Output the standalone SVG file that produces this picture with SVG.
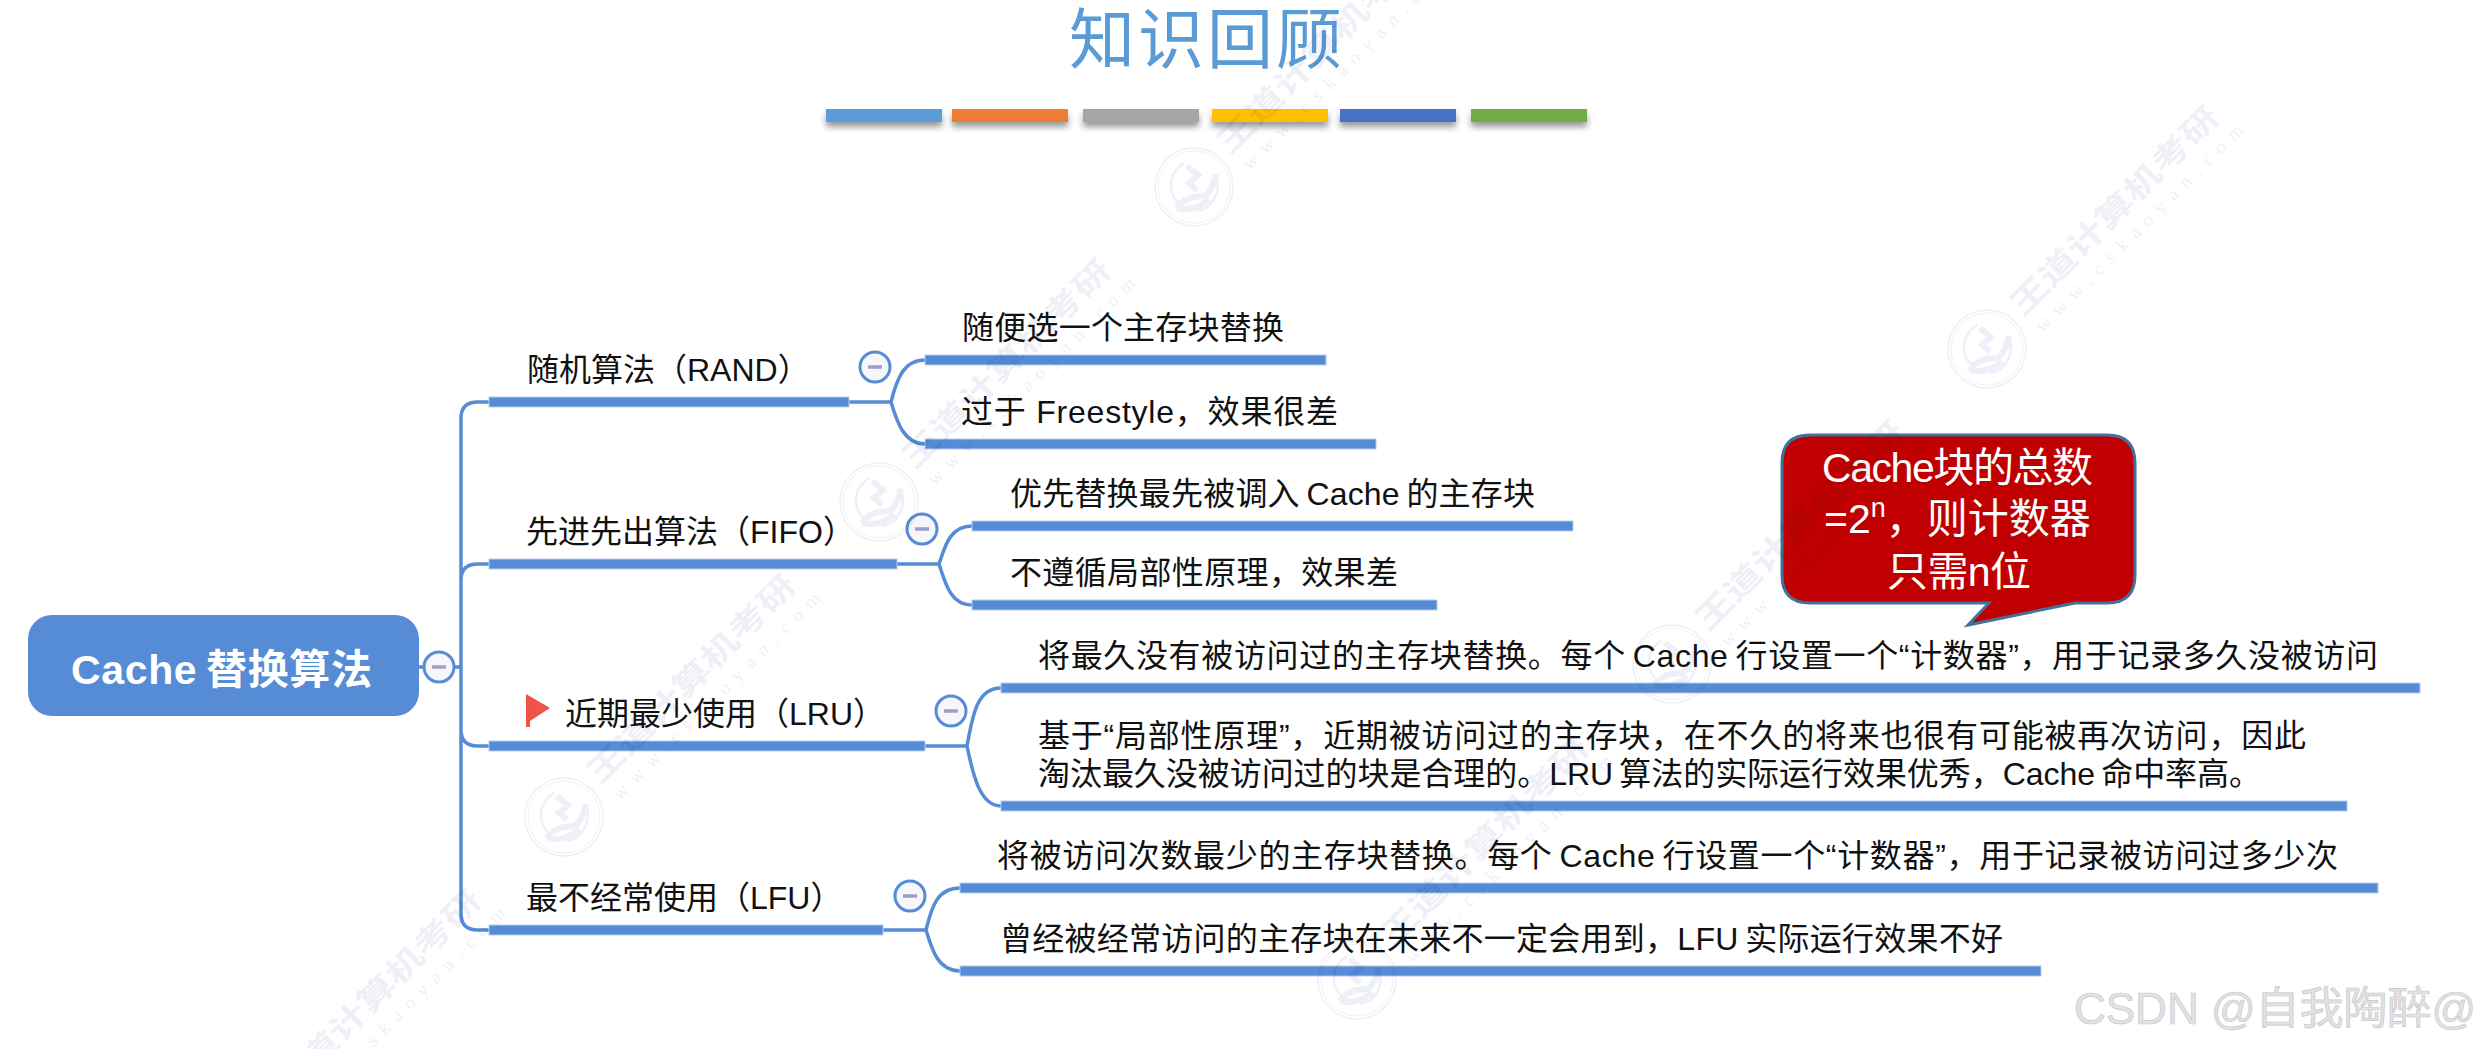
<svg xmlns="http://www.w3.org/2000/svg" width="2489" height="1049" viewBox="0 0 2489 1049">
<style>
text{font-family:"Liberation Sans","Noto Sans CJK SC",sans-serif}
.t{font-size:32px;fill:#111}
.bar{fill:#558CD5;stroke:#B5CDEE;stroke-width:1}
.c{fill:none;stroke:#558CD5;stroke-width:3.5}
.fold{fill:#F6F6FB;stroke:#558CD5;stroke-width:3}
.minus{stroke:#9A9FCB;stroke-width:3.5}
.call{font-size:41px;fill:#fff}
.wmt{font-size:40px;font-weight:bold;fill:#EEEFF7}
.wmu{font-family:"Liberation Serif","Noto Sans CJK SC",serif;font-size:19px;fill:#EEEFF7}
.wmc{fill:none;stroke:#EEEFF7}
#watermarks{mix-blend-mode:multiply}
</style>
<defs>
<filter id="sh" x="-10%" y="-40%" width="120%" height="220%"><feDropShadow dx="0" dy="5" stdDeviation="3" flood-color="#000" flood-opacity=".4"/></filter>
<g id="wm">
<circle class="wmc" r="39" stroke-width="1.5"/>
<circle class="wmc" r="36" stroke-width="1"/>
<path class="wmc" stroke-width="2.5" d="M-10-24C-28-12-26 10-13 17M22-13C28 6 18 22 3 24"/>
<path class="wmc" stroke-width="6" d="M-17 21C-8 8 4 10 10 9C16 6 20-4 22-13M-17 21C-6 24 8 20 15 12M-7-21L4-12L-5-4L3 3"/>
<text class="wmt" transform="translate(36 -32) rotate(-45) scale(1 .75)">王道计算机考研</text>
<text class="wmu" transform="translate(56 -16) rotate(-45)" textLength="285">www.cskaoyan.com</text>
</g>
</defs>
<rect width="2489" height="1049" fill="#fff"/>
<g id="title">
<text x="1069" y="63" font-size="66" fill="#5B9BD5" textLength="273" style="font-family:'Noto Sans CJK SC',sans-serif">知识回顾</text>
<g filter="url(#sh)">
<rect x="826" y="109" width="116" height="13" fill="#5B9BD5"/>
<rect x="952" y="109" width="116" height="13" fill="#ED7D31"/>
<rect x="1083" y="109" width="116" height="13" fill="#A5A5A5"/>
<rect x="1212" y="109" width="116" height="13" fill="#FFC000"/>
<rect x="1340" y="109" width="116" height="13" fill="#4472C4"/>
<rect x="1471" y="109" width="116" height="13" fill="#70AD47"/>
</g>
</g>
<g id="connectors">
<path class="c" d="M419 667H461M461 667V418Q461 402 478 402H489M461 667V580Q461 564 478 564H489M461 667V730Q461 746 478 746H489M461 667V914Q461 930 478 930H489"/>
<path class="c" d="M849 402H891M891 402C897 378 904 360 925 360M891 402C897 422 904 444 925 444"/>
<path class="c" d="M897 564H939M939 564C945 546 950 526 972 526M939 564C945 582 950 605 972 605"/>
<path class="c" d="M925 746H967M967 746C973 712 978 688 1001 688M967 746C973 775 980 806 1001 806"/>
<path class="c" d="M883 930H926M926 930C932 905 938 888 960 888M926 930C932 950 938 971 960 971"/>
</g>
<g id="root">
<rect x="28" y="615" width="391" height="101" rx="24" fill="#558CD5"/>
<text x="71" y="684" font-size="41" font-weight="bold" fill="#fff" textLength="301">Cache&#8201;替换算法</text>
<circle class="fold" cx="439" cy="667" r="15"/><path class="minus" d="M432 667H446"/>
</g>
<g id="rand">
<rect class="bar" x="489" y="397" width="360" height="10"/>
<text class="t" x="527" y="381">随机算法（RAND）</text>
<circle class="fold" cx="875" cy="367" r="15"/><path class="minus" d="M868 367H882"/>
</g>
<g id="rand-1">
<rect class="bar" x="925" y="355" width="401" height="10"/>
<text class="t" x="962" y="339" textLength="322">随便选一个主存块替换</text>
</g>
<g id="rand-2">
<rect class="bar" x="925" y="439" width="451" height="10"/>
<text class="t" x="961" y="423" textLength="377">过于 Freestyle，效果很差</text>
</g>
<g id="fifo">
<rect class="bar" x="489" y="559" width="408" height="10"/>
<text class="t" x="526" y="543">先进先出算法（FIFO）</text>
<circle class="fold" cx="922" cy="529" r="15"/><path class="minus" d="M915 529H929"/>
</g>
<g id="fifo-1">
<rect class="bar" x="972" y="521" width="601" height="10"/>
<text class="t" x="1010" y="505" textLength="525">优先替换最先被调入&#8201;Cache&#8201;的主存块</text>
</g>
<g id="fifo-2">
<rect class="bar" x="972" y="600" width="465" height="10"/>
<text class="t" x="1010" y="584" textLength="388">不遵循局部性原理，效果差</text>
</g>
<g id="lru">
<rect class="bar" x="489" y="741" width="436" height="10"/>
<path d="M526 694L550 708L530 721V727H526Z" fill="#F0524C"/>
<text class="t" x="565" y="725">近期最少使用（LRU）</text>
<circle class="fold" cx="951" cy="711" r="15"/><path class="minus" d="M944 711H958"/>
</g>
<g id="lru-1">
<rect class="bar" x="1001" y="683" width="1419" height="10"/>
<text class="t" x="1038" y="667" textLength="1340">将最久没有被访问过的主存块替换。每个&#8201;Cache&#8201;行设置一个“计数器”，用于记录多久没被访问</text>
</g>
<g id="lru-2">
<rect class="bar" x="1001" y="801" width="1346" height="10"/>
<text class="t" x="1038" y="747" textLength="1268">基于“局部性原理”，近期被访问过的主存块，在不久的将来也很有可能被再次访问，因此</text>
<text class="t" x="1038" y="785" textLength="1223">淘汰最久没被访问过的块是合理的。LRU&#8201;算法的实际运行效果优秀，Cache&#8201;命中率高。</text>
</g>
<g id="lfu">
<rect class="bar" x="489" y="925" width="394" height="10"/>
<text class="t" x="526" y="909">最不经常使用（LFU）</text>
<circle class="fold" cx="910" cy="896" r="15"/><path class="minus" d="M903 896H917"/>
</g>
<g id="lfu-1">
<rect class="bar" x="960" y="883" width="1418" height="10"/>
<text class="t" x="997" y="867" textLength="1341">将被访问次数最少的主存块替换。每个&#8201;Cache&#8201;行设置一个“计数器”，用于记录被访问过多少次</text>
</g>
<g id="lfu-2">
<rect class="bar" x="960" y="966" width="1081" height="10"/>
<text class="t" x="1000" y="950" textLength="1003">曾经被经常访问的主存块在未来不一定会用到，LFU&#8201;实际运行效果不好</text>
</g>
<g id="callout">
<path d="M1810 435H2107Q2135 435 2135 463V575Q2135 603 2107 603H2075L1968 625L1989 603H1810Q1782 603 1782 575V463Q1782 435 1810 435Z" fill="#C00000" stroke="#41719C" stroke-width="3"/>
<text class="call" x="1822" y="482" textLength="271">Cache块的总数</text>
<text class="call" x="1824" y="533">=2<tspan font-size="27" dy="-16">n</tspan><tspan dy="16">，则计数器</tspan></text>
<text class="call" x="1887" y="586" textLength="144">只需n位</text>
</g>
<g id="watermarks">
<use href="#wm" x="1194" y="187"/>
<use href="#wm" x="1987" y="349"/>
<use href="#wm" x="879" y="502"/>
<use href="#wm" x="1672" y="664"/>
<use href="#wm" x="564" y="817"/>
<use href="#wm" x="1357" y="980"/>
<use href="#wm" x="249" y="1132"/>
<use href="#wm" x="1042" y="1295"/>
</g>
<text x="2074" y="1024" font-size="44" fill="#E2E2E2" stroke="#C8C8C8" stroke-width=".7">CSDN @自我陶醉@</text>
</svg>
